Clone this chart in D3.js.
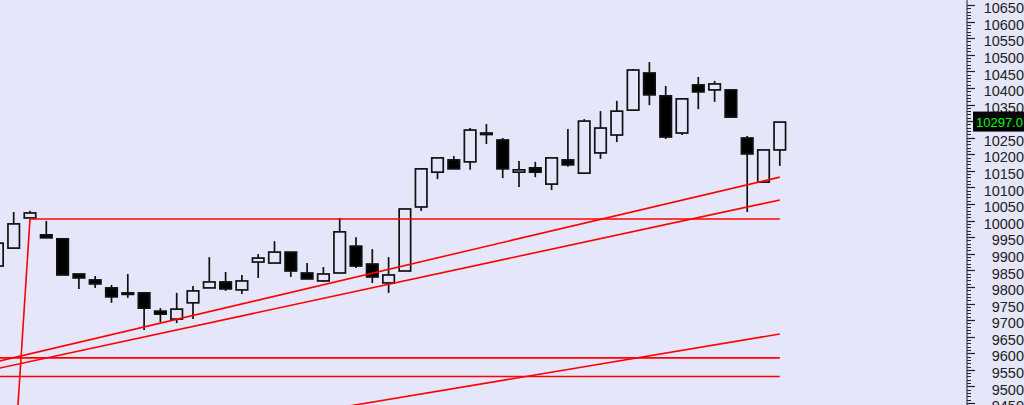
<!DOCTYPE html>
<html><head><meta charset="utf-8">
<script src="https://cdn.jsdelivr.net/npm/d3@7"></script>
<style>
html,body{margin:0;padding:0;background:#E6E6FA;overflow:hidden}
svg{display:block}
</style></head>
<body>
<svg id="chart" width="1024" height="405"></svg>
<script>
// ---- data ----
const bars   = d3.range(49);
const opens  = [9863,9917,10008,9957,9945,9839,9821,9797,9782,9782,9727,9703,9752,9797,9815,9791,9875,9872,9905,9842,9818,9842,9923,9869,9812,9848,10041,10146,10183,10177,10264,10243,10146,10159,10110,10183,10143,10204,10258,10333,10445,10376,10264,10409,10394,10394,10249,10116,10213];
const highs  = [9945,10026,10030,9999,9945,9839,9833,9806,9839,9785,9736,9782,9803,9890,9845,9836,9899,9938,9905,9872,9860,10008,9950,9914,9890,10035,10156,10189,10195,10279,10291,10249,10180,10177,10189,10276,10306,10330,10361,10457,10478,10406,10367,10433,10421,10394,10255,10213,10297];
const lows   = [9855,9917,10008,9948,9836,9794,9797,9752,9767,9670,9694,9691,9703,9797,9788,9779,9827,9872,9830,9824,9815,9842,9857,9812,9782,9848,10029,10125,10156,10153,10231,10128,10101,10131,10092,10162,10143,10186,10237,10333,10348,10246,10258,10336,10358,10312,10026,10116,10165];
const closes = [9932,9990,10023,9948,9836,9827,9809,9770,9778,9736,9718,9733,9788,9815,9794,9818,9887,9905,9848,9824,9839,9966,9863,9830,9836,10035,10156,10189,10156,10273,10261,10156,10153,10146,10189,10168,10300,10279,10330,10454,10379,10252,10367,10388,10412,10312,10201,10213,10297];
const lastPrice = 10297.0;
// trend lines: [x1 index, price1, x2 index, price2]
const trendLines = [
  [2, 10005, 1.206, 9400],
  [0, 9575, 48, 10131],
  [0, 9554, 48, 10062],
  [20, 9428, 48, 9658]
];
// horizontal levels: [price, from index, to index]
const levels = [
  [10005, 2, 48],
  [9586, -1, 48],
  [9530, -1, 48]
];
const majorTicks = d3.range(9450, 10651, 50);
const minorTicks = d3.range(9450, 10651, 10);
const tickLabels = majorTicks.filter(v => v !== 10300); // 10300 hidden behind price box

// ---- scales ----
const W = 1024, H = 405, axisX = 967;
const x = d3.scaleLinear().domain([0, 48]).range([-2.6, 779.8]);
const y = d3.scaleLinear().domain([9450, 10650]).range([403, 5]);
const svg = d3.select("#chart");
const bg = "#E6E6FA";
svg.append("rect").attr("width", W).attr("height", H).attr("fill", bg);

svg.append("clipPath").attr("id","plot").append("rect").attr("x",0).attr("y",0).attr("width",axisX).attr("height",H);
const plot = svg.append("g").attr("clip-path","url(#plot)");

// candles
const bodyW = 11.5;
const data = bars.map(i => ({i, o: opens[i], h: highs[i], l: lows[i], c: closes[i]}));
const cg = plot.append("g");
cg.selectAll("line.wick").data(data).join("line")
  .attr("x1", d => x(d.i)).attr("x2", d => x(d.i))
  .attr("y1", d => y(d.h)).attr("y2", d => y(d.l))
  .attr("stroke", "#111").attr("stroke-width", 1.7);
cg.selectAll("rect.body").data(data).join("rect")
  .attr("x", d => x(d.i) - bodyW/2)
  .attr("y", d => y(Math.max(d.o, d.c)))
  .attr("width", bodyW)
  .attr("height", d => Math.max(1.5, Math.abs(y(d.o) - y(d.c))))
  .attr("fill", d => d.c >= d.o ? bg : "#000")
  .attr("stroke", "#111").attr("stroke-width", 1.7);

// red lines
const lg = plot.append("g").attr("stroke", "#FF0000").attr("stroke-width", 1.6).attr("fill","none");
lg.selectAll("line.lev").data(levels).join("line")
  .attr("x1", d => x(d[1])).attr("x2", d => x(d[2]))
  .attr("y1", d => y(d[0])).attr("y2", d => y(d[0]));
lg.selectAll("line.tr").data(trendLines).join("line")
  .attr("x1", d => x(d[0])).attr("y1", d => y(d[1]))
  .attr("x2", d => x(d[2])).attr("y2", d => y(d[3]));

// right axis
const ag = svg.append("g");
ag.append("line").attr("x1", axisX).attr("x2", axisX).attr("y1", 0).attr("y2", H)
  .attr("stroke", "#222").attr("stroke-width", 1);
ag.selectAll("line.minor").data(minorTicks).join("line")
  .attr("x1", axisX).attr("x2", axisX + 4)
  .attr("y1", d => Math.round(y(d)) + 0.5).attr("y2", d => Math.round(y(d)) + 0.5)
  .attr("stroke", "#222").attr("stroke-width", 1);
ag.selectAll("line.major").data(majorTicks).join("line")
  .attr("x1", axisX).attr("x2", axisX + 8)
  .attr("y1", d => Math.round(y(d)) + 0.5).attr("y2", d => Math.round(y(d)) + 0.5)
  .attr("stroke", "#222").attr("stroke-width", 1.2);
ag.selectAll("text").data(tickLabels).join("text")
  .attr("x", 1024).attr("y", d => y(d) + 3).attr("dy", "0.36em")
  .attr("text-anchor", "end")
  .attr("font-family", "'Liberation Sans', Arial, sans-serif").attr("font-size", 14.5)
  .attr("fill", "#222").text(d => d);

// last price box
const py = y(lastPrice);
svg.append("rect").attr("x", 973).attr("y", py - 10.5).attr("width", 52).attr("height", 20).attr("fill", "#000");
svg.append("text").attr("x", 976).attr("y", py).attr("dy", "0.36em")
  .attr("font-family", "'Liberation Sans', Arial, sans-serif").attr("font-size", 13)
  .attr("fill", "#00FF00").text(lastPrice.toFixed(1));
</script>
</body></html>
